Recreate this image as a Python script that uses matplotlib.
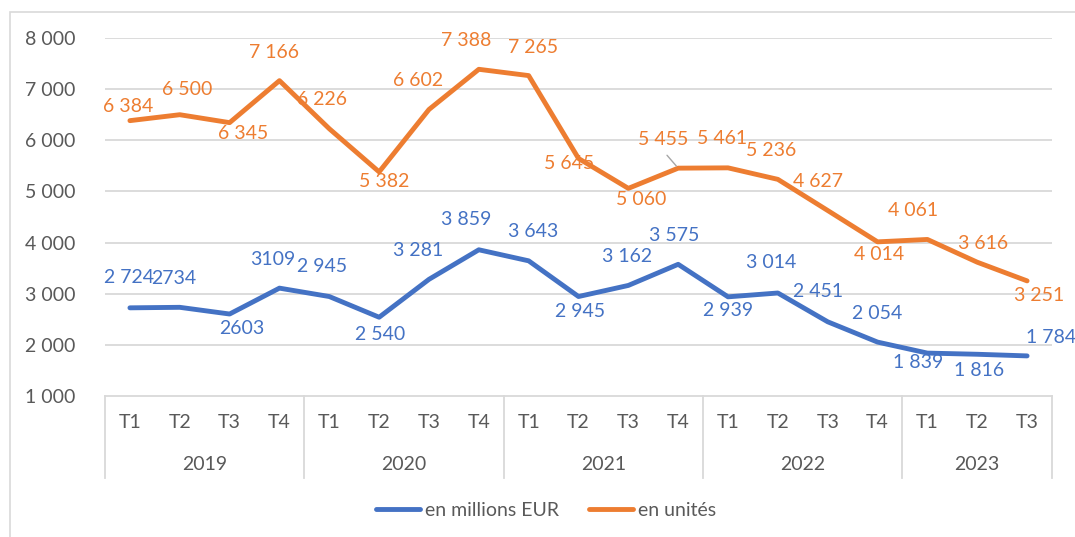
import matplotlib
matplotlib.use("Agg")
import matplotlib.pyplot as plt
from matplotlib.lines import Line2D
from matplotlib.patches import Rectangle

plt.rcParams["font.family"] = ["Lato", "DejaVu Sans"]

years = ["2019", "2020", "2021", "2022", "2023"]
quarters_per_year = [4, 4, 4, 4, 3]
quarter_labels = ["T1", "T2", "T3", "T4"]

millions_eur = [2724, 2734, 2603, 3109, 2945, 2540, 3281, 3859, 3643, 2945,
                3162, 3575, 2939, 3014, 2451, 2054, 1839, 1816, 1784]
units = [6384, 6500, 6345, 7166, 6226, 5382, 6602, 7388, 7265, 5645,
         5060, 5455, 5461, 5236, 4627, 4014, 4061, 3616, 3251]

# the source writes a few labels without the thousands space
millions_labels = ["2 724", "2734", "2603", "3109", "2 945", "2 540", "3 281", "3 859",
                   "3 643", "2 945", "3 162", "3 575", "2 939", "3 014", "2 451",
                   "2 054", "1 839", "1 816", "1 784"]
units_labels = ["6 384", "6 500", "6 345", "7 166", "6 226", "5 382", "6 602", "7 388",
                "7 265", "5 645", "5 060", "5 455", "5 461", "5 236", "4 627",
                "4 014", "4 061", "3 616", "3 251"]

y_ticks = [1000, 2000, 3000, 4000, 5000, 6000, 7000, 8000]

BLUE = "#4472C4"
ORANGE = "#ED7D31"
GREY = "#595959"
GRID = "#D9D9D9"
FS = 14

# label offsets in pixels (dx, dy) from each point
units_off = [(-2, 14), (7, 25), (14, -11), (-5, 28), (-7, 29), (5, -10), (-11, 29),
             (-13, 29), (4, 28), (-9, -5), (13, -11), (-15, 29), (-6, 29), (-7, 29),
             (-10, 29), (2, -13), (-14, 29), (6, 19), (12, -15)]
millions_off = [(-1, 30), (-6, 29), (12, -14), (-7, 29), (-7, 30), (1, -17), (-11, 29),
                (-13, 30), (4, 29), (2, -15), (-1, 29), (-4, 29), (0, -14), (-7, 30),
                (-10, 30), (0, 29), (-9, -9), (2, -16), (24, 18)]

fig = plt.figure(figsize=(10.75, 5.37), dpi=100)
W, H = 1075, 537
ax = fig.add_axes([105 / W, (H - 396) / H, (1052 - 105) / W, (396 - 38) / H])

fig.patches.append(Rectangle((10 / W, -0.1), 1.2, 1.1 - 12 / H, transform=fig.transFigure,
                             fill=False, edgecolor=GRID, linewidth=1.2))

x = list(range(len(units)))
ax.plot(x, millions_eur, color=BLUE, linewidth=3.5, solid_joinstyle="round",
        solid_capstyle="round", label="en millions EUR", zorder=3)
ax.plot(x, units, color=ORANGE, linewidth=3.5, solid_joinstyle="round",
        solid_capstyle="round", label="en unités", zorder=3)

for i, (v, lab) in enumerate(zip(units, units_labels)):
    dx, dy = units_off[i]
    ax.annotate(lab, (i, v), xytext=(dx, dy), textcoords="offset pixels",
                ha="center", va="center", color=ORANGE, fontsize=FS, zorder=4)
for i, (v, lab) in enumerate(zip(millions_eur, millions_labels)):
    dx, dy = millions_off[i]
    ax.annotate(lab, (i, v), xytext=(dx, dy), textcoords="offset pixels",
                ha="center", va="center", color=BLUE, fontsize=FS, zorder=4)

# leader line for 5 455
ax.annotate("", (11, units[11]), xytext=(-13, 15), textcoords="offset pixels",
            arrowprops=dict(arrowstyle="-", color="#A6A6A6", lw=1))

ax.set_xlim(-0.5, len(units) - 0.5)
ax.set_ylim(y_ticks[0], y_ticks[-1])
ax.set_yticks(y_ticks)
ax.set_yticklabels([f"{t:,}".replace(",", " ") for t in y_ticks], color=GREY, fontsize=FS)
ax.tick_params(axis="y", length=0, pad=21)
ax.set_xticks([])
for t in y_ticks[1:]:
    ax.axhline(t, color=GRID, linewidth=1.3, zorder=1)
for s in ["top", "right", "left"]:
    ax.spines[s].set_visible(False)
ax.spines["bottom"].set_color(GRID)
ax.spines["bottom"].set_linewidth(1.3)

# two-level category axis
trans = ax.get_xaxis_transform()
y_line_bottom = -(478 - 396) / (396 - 38)
y_q = -(423 - 396) / (396 - 38)
y_year = -(465 - 396) / (396 - 38)
pos = 0
bounds = [-0.5]
for yr, n in zip(years, quarters_per_year):
    for k in range(n):
        ax.text(pos + k, y_q, quarter_labels[k], transform=trans, ha="center", va="center",
                color=GREY, fontsize=FS)
    ax.text(pos + (n - 1) / 2, y_year, yr, transform=trans, ha="center", va="center",
            color=GREY, fontsize=FS)
    pos += n
    bounds.append(pos - 0.5)
for b in bounds:
    ax.add_line(Line2D([b, b], [0, y_line_bottom], transform=trans, color=GRID,
                       linewidth=1.3, clip_on=False))

fig.legend(loc="center", bbox_to_anchor=(546 / W, 1 - 510 / H), ncol=2, frameon=False,
           fontsize=FS, handlelength=2.3, handletextpad=0.25, columnspacing=1.5,
           labelcolor=GREY)

fig.savefig("out.png", dpi=100)
